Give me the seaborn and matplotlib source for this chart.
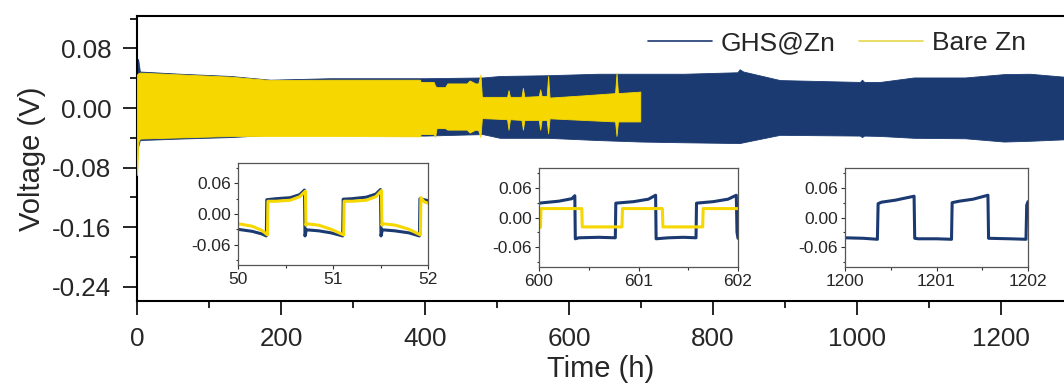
import numpy as np
import pandas as pd
import matplotlib
matplotlib.use("Agg")
import matplotlib.pyplot as plt
from matplotlib.lines import Line2D
from matplotlib.ticker import MultipleLocator
import seaborn as sns

# ---------------- data ----------------
BLUE = "#1B3A72"
YELLOW = "#F6D800"

# Envelope of the GHS@Zn voltage oscillation band (main panel)
ghs_t = [0, 1.5, 4, 60, 130, 185, 268, 400, 480, 504, 570, 640, 700, 760, 834,
         837, 842, 893, 1004, 1007, 1010, 1032, 1079, 1150, 1204, 1240, 1288]
ghs_upper = [0.046, 0.066, 0.049, 0.046, 0.043, 0.038, 0.040, 0.040, 0.041, 0.043, 0.044, 0.046,
             0.046, 0.046, 0.048, 0.052, 0.049, 0.0375, 0.035, 0.038, 0.035, 0.035, 0.041, 0.041,
             0.0455, 0.046, 0.042]
ghs_lower = [-0.065, -0.052, -0.043, -0.041, -0.039, -0.036, -0.036, -0.037, -0.035, -0.040, -0.040,
             -0.043, -0.045, -0.046, -0.047, -0.047, -0.046, -0.036, -0.037, -0.039, -0.037, -0.0375,
             -0.040, -0.0406, -0.045, -0.044, -0.042]

# Envelope of the bare Zn voltage oscillation band (main panel)
bare_t = [0, 2, 4, 130, 185, 268, 393, 394, 412, 414, 416, 428, 431, 458, 462, 470, 474,
          477, 479, 514, 516, 518, 534, 536, 538, 558, 560, 562, 569, 571, 573, 620,
          664, 666, 668, 699]
bare_upper = [0.045, 0.047, 0.0475, 0.042, 0.0375, 0.038, 0.038, 0.035, 0.035, 0.030, 0.028,
              0.028, 0.033, 0.033, 0.037, 0.033, 0.033, 0.045, 0.015, 0.015, 0.024, 0.015,
              0.015, 0.027, 0.015, 0.016, 0.025, 0.016, 0.016, 0.043, 0.014, 0.017,
              0.020, 0.047, 0.020, 0.022]
bare_lower = [-0.090, -0.045, -0.041, -0.0375, -0.0375, -0.0375, -0.038, -0.035, -0.035, -0.039,
              -0.027, -0.027, -0.029, -0.029, -0.033, -0.029, -0.030, -0.039, -0.0135, -0.015,
              -0.029, -0.015, -0.016, -0.029, -0.016, -0.016, -0.029, -0.016, -0.016, -0.034,
              -0.0138, -0.016, -0.018, -0.0375, -0.018, -0.018]

# Inset 1 (50-52 h)
in1_ghs_t = [50.00, 50.15, 50.25, 50.298, 50.303, 50.40, 50.55, 50.65, 50.700, 50.705, 50.72,
             50.85, 50.98, 51.102, 51.107, 51.20, 51.35, 51.45, 51.500, 51.505, 51.52, 51.65,
             51.80, 51.910, 51.915, 51.96, 52.00]
in1_ghs_v = [-0.030, -0.034, -0.039, -0.043, 0.028, 0.030, 0.032, 0.038, 0.047, -0.043, -0.031,
             -0.033, -0.037, -0.043, 0.029, 0.030, 0.033, 0.039, 0.048, -0.043, -0.031, -0.033,
             -0.037, -0.043, 0.030, 0.028, 0.026]
in1_bare_t = [50.00, 50.15, 50.25, 50.310, 50.315, 50.40, 50.55, 50.65, 50.710, 50.715, 50.72,
              50.85, 50.98, 51.112, 51.117, 51.20, 51.35, 51.45, 51.510, 51.515, 51.52, 51.66,
              51.80, 51.920, 51.925, 51.96, 52.00]
in1_bare_v = [-0.019, -0.024, -0.032, -0.041, 0.025, 0.025, 0.027, 0.034, 0.045, -0.022, -0.019,
              -0.022, -0.030, -0.041, 0.025, 0.025, 0.027, 0.034, 0.046, -0.022, -0.019, -0.022,
              -0.030, -0.041, 0.032, 0.024, 0.021]

# Inset 2 (600-602 h)
in2_ghs_t = [600.00, 600.20, 600.33, 600.360, 600.365, 600.40, 600.60, 600.767, 600.772, 600.95,
             601.10, 601.172, 601.177, 601.30, 601.45, 601.578, 601.583, 601.75, 601.90, 601.983,
             601.990, 602.00]
in2_ghs_v = [0.029, 0.033, 0.038, 0.044, -0.043, -0.041, -0.040, -0.041, 0.029, 0.032, 0.037,
             0.045, -0.043, -0.041, -0.040, -0.041, 0.029, 0.032, 0.037, 0.045, -0.030, -0.042]
in2_bare_t = [600.00, 600.015, 600.020, 600.430, 600.435, 600.834, 600.839, 601.240, 601.245,
              601.645, 601.650, 602.00]
in2_bare_v = [-0.020, -0.020, 0.018, 0.018, -0.019, -0.019, 0.018, 0.018, -0.019, -0.019,
              0.018, 0.018]

# Inset 3 (1200-1202 h)
in3_ghs_t = [1200.00, 1200.20, 1200.354, 1200.362, 1200.40, 1200.55, 1200.755, 1200.762,
             1200.80, 1201.00, 1201.164, 1201.171, 1201.25, 1201.40, 1201.562, 1201.569,
             1201.80, 1201.978, 1201.986, 1202.00]
in3_ghs_v = [-0.041, -0.042, -0.044, 0.028, 0.031, 0.035, 0.043, -0.042, -0.043, -0.043,
             -0.044, 0.030, 0.033, 0.037, 0.045, -0.042, -0.043, -0.044, 0.025, 0.032]

legend_labels = ["GHS@Zn", "Bare Zn"]
main_xticks = [0, 200, 400, 600, 800, 1000, 1200]
main_yticks = [-0.24, -0.16, -0.08, 0.00, 0.08]
inset_yticks = [-0.06, 0.00, 0.06]

# ---------------- style ----------------
sns.set_style("ticks")
plt.rcParams["font.family"] = ["Liberation Sans", "DejaVu Sans"]
plt.rcParams["axes.linewidth"] = 1.5

fig = plt.figure(figsize=(10.64, 3.89), dpi=100)
ax = fig.add_axes([137 / 1064, 1 - 301 / 389, 1 - 137 / 1064, (301 - 16) / 389])

ax.fill_between(ghs_t, ghs_lower, ghs_upper, color=BLUE, linewidth=0.6, edgecolor=BLUE, zorder=2)
ax.fill_between(bare_t, bare_lower, bare_upper, color=YELLOW, linewidth=0.6, edgecolor=YELLOW, zorder=3)

ax.set_xlim(0, 1287.5)
ax.set_ylim(-0.259, 0.1235)
ax.set_xticks(main_xticks)
ax.set_xticklabels([str(v) for v in main_xticks])
ax.set_yticks(main_yticks)
ax.set_yticklabels([f"{v:.2f}" for v in main_yticks])
ax.xaxis.set_minor_locator(MultipleLocator(100))
ax.yaxis.set_minor_locator(MultipleLocator(0.04))
ax.tick_params(which="major", direction="out", length=10, width=1.2, labelsize=18.7, pad=8.5,
               color="black")
ax.tick_params(which="minor", direction="out", length=5, width=1.2, color="black")
ax.spines["right"].set_visible(False)
for s in ["left", "bottom", "top"]:
    ax.spines[s].set_color("black")
ax.set_xlabel("Time (h)", fontsize=21, labelpad=3)
ax.set_ylabel("Voltage (V)", fontsize=21, labelpad=4)

handles = [Line2D([], [], color=BLUE, lw=1.2), Line2D([], [], color="#E8D84A", lw=1.2)]
leg = fig.legend(handles, legend_labels, loc="center right",
                 bbox_to_anchor=(1026 / 1064, 1 - 43 / 389), ncol=2, frameon=False,
                 fontsize=19, handlelength=2.4, handletextpad=0.35, columnspacing=0.9,
                 borderpad=0, borderaxespad=0)

# ---------------- insets ----------------
def make_inset(rect, xlim, ticks, series):
    iax = fig.add_axes(rect)
    for t, v, c in series:
        df = pd.DataFrame({"t": t, "v": v})
        sns.lineplot(data=df, x="t", y="v", ax=iax, color=c, lw=2.2, sort=False,
                     estimator=None, legend=False)
    iax.set_xlim(*xlim)
    iax.set_ylim(-0.1, 0.1)
    iax.set_xticks(ticks)
    iax.set_xticklabels([str(v) for v in ticks])
    iax.set_yticks(inset_yticks)
    iax.set_yticklabels([f"{v:.2f}" for v in inset_yticks])
    iax.xaxis.set_minor_locator(MultipleLocator(0.5))
    iax.yaxis.set_minor_locator(MultipleLocator(0.03))
    iax.tick_params(which="major", direction="out", length=3, width=0.8, labelsize=12.5, pad=2,
                    color="#333333")
    iax.tick_params(which="minor", direction="out", length=1.8, width=0.8, color="#333333")
    for s in iax.spines.values():
        s.set_color("#555555")
        s.set_linewidth(0.9)
    iax.set_xlabel("")
    iax.set_ylabel("")
    iax.set_facecolor("white")
    return iax

make_inset([238 / 1064, 1 - 265 / 389, 190 / 1064, 102 / 389], (50, 52), [50, 51, 52],
           [(in1_ghs_t, in1_ghs_v, BLUE), (in1_bare_t, in1_bare_v, YELLOW)])
make_inset([539 / 1064, 1 - 267 / 389, 199 / 1064, 99 / 389], (600, 602), [600, 601, 602],
           [(in2_ghs_t, in2_ghs_v, BLUE), (in2_bare_t, in2_bare_v, YELLOW)])
make_inset([845 / 1064, 1 - 267 / 389, 183 / 1064, 99 / 389], (1200, 1202), [1200, 1201, 1202],
           [(in3_ghs_t, in3_ghs_v, BLUE)])

fig.savefig("out.png", dpi=100)
